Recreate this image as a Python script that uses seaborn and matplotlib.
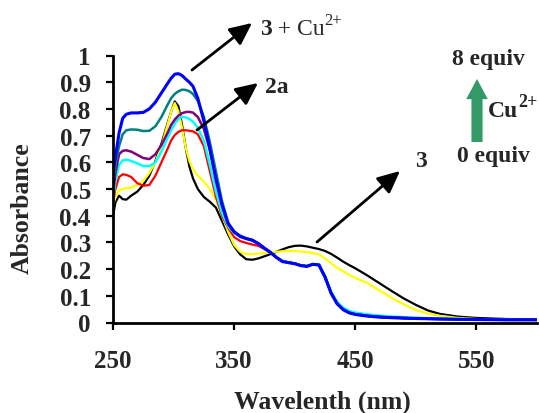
import matplotlib
matplotlib.use("Agg")
import matplotlib.pyplot as plt
import pandas as pd
import seaborn as sns

# Wavelength grid (nm) shared by every spectrum
wavelength = [250, 252, 255, 258, 261, 265, 270, 275, 280, 285, 290, 295, 298, 301, 304,
              307, 310, 313, 316, 320, 325, 330, 335, 340, 345, 350, 355, 360, 365, 370,
              375, 380, 385, 390, 395, 400, 405, 410, 415, 420, 425, 430, 435, 440, 445,
              450, 460, 470, 480, 490, 500, 510, 520, 535, 550, 575, 600]

# Absorbance of compound 3 during the Cu2+ titration (0 -> 8 equiv)
abs_black = [0.40, 0.45, 0.475, 0.462, 0.46, 0.475, 0.49, 0.515, 0.55, 0.605, 0.67, 0.745, 0.79, 0.828, 0.81,
             0.74, 0.655, 0.585, 0.54, 0.50, 0.47, 0.452, 0.43, 0.38, 0.33, 0.285, 0.255, 0.237, 0.235, 0.24,
             0.248, 0.256, 0.265, 0.274, 0.282, 0.287, 0.288, 0.285, 0.28, 0.275, 0.268, 0.257, 0.243, 0.228, 0.215,
             0.203, 0.176, 0.147, 0.118, 0.09, 0.066, 0.045, 0.032, 0.022, 0.017, 0.013, 0.011]
abs_yellow = [0.44, 0.47, 0.495, 0.50, 0.503, 0.505, 0.515, 0.53, 0.56, 0.60, 0.66, 0.74, 0.79, 0.822, 0.79,
              0.73, 0.655, 0.605, 0.575, 0.55, 0.528, 0.50, 0.46, 0.40, 0.34, 0.29, 0.265, 0.256, 0.256, 0.258,
              0.26, 0.263, 0.265, 0.267, 0.268, 0.268, 0.266, 0.263, 0.26, 0.255, 0.24, 0.222, 0.205, 0.192, 0.178,
              0.167, 0.148, 0.12, 0.092, 0.068, 0.047, 0.033, 0.025, 0.017, 0.013, 0.01, 0.008]
abs_red = [0.45, 0.50, 0.545, 0.555, 0.553, 0.545, 0.522, 0.512, 0.515, 0.55, 0.60, 0.65, 0.682, 0.702, 0.714,
           0.72, 0.72, 0.718, 0.716, 0.705, 0.66, 0.565, 0.47, 0.40, 0.355, 0.32, 0.305, 0.298, 0.292, 0.287,
           0.275, 0.262, 0.245, 0.23, 0.225, 0.221, 0.214, 0.211, 0.218, 0.216, 0.172, 0.113, 0.074, 0.052, 0.04,
           0.033, 0.027, 0.023, 0.02, 0.018, 0.016, 0.015, 0.014, 0.012, 0.011, 0.01, 0.01]
abs_cyan = [0.46, 0.53, 0.59, 0.607, 0.61, 0.605, 0.596, 0.586, 0.585, 0.60, 0.64, 0.69, 0.72, 0.745, 0.762,
            0.77, 0.768, 0.762, 0.752, 0.73, 0.68, 0.59, 0.49, 0.41, 0.36, 0.335, 0.322, 0.314, 0.308, 0.296,
            0.279, 0.263, 0.244, 0.229, 0.225, 0.221, 0.214, 0.211, 0.219, 0.217, 0.174, 0.116, 0.077, 0.055, 0.043,
            0.037, 0.03, 0.026, 0.022, 0.02, 0.018, 0.016, 0.015, 0.013, 0.012, 0.011, 0.01]
abs_purple = [0.48, 0.56, 0.63, 0.643, 0.645, 0.64, 0.628, 0.616, 0.612, 0.63, 0.665, 0.71, 0.74, 0.76, 0.775,
              0.784, 0.788, 0.789, 0.786, 0.77, 0.725, 0.645, 0.545, 0.44, 0.37, 0.338, 0.324, 0.315, 0.309, 0.296,
              0.279, 0.263, 0.244, 0.229, 0.225, 0.221, 0.214, 0.211, 0.218, 0.216, 0.171, 0.111, 0.071, 0.049, 0.037,
              0.031, 0.025, 0.021, 0.019, 0.017, 0.015, 0.014, 0.013, 0.012, 0.011, 0.01, 0.01]
abs_teal = [0.53, 0.59, 0.66, 0.705, 0.72, 0.723, 0.722, 0.717, 0.718, 0.735, 0.77, 0.815, 0.84, 0.856, 0.866,
            0.872, 0.871, 0.866, 0.856, 0.83, 0.77, 0.675, 0.565, 0.455, 0.375, 0.34, 0.325, 0.315, 0.309, 0.296,
            0.279, 0.263, 0.244, 0.229, 0.225, 0.221, 0.214, 0.211, 0.218, 0.216, 0.171, 0.111, 0.071, 0.049, 0.037,
            0.031, 0.025, 0.021, 0.019, 0.017, 0.015, 0.014, 0.013, 0.012, 0.011, 0.01, 0.01]
abs_blue = [0.56, 0.62, 0.71, 0.765, 0.78, 0.785, 0.785, 0.787, 0.80, 0.825, 0.86, 0.895, 0.915, 0.93, 0.932,
            0.925, 0.912, 0.90, 0.885, 0.84, 0.755, 0.65, 0.535, 0.44, 0.37, 0.34, 0.322, 0.314, 0.308, 0.295,
            0.278, 0.262, 0.243, 0.228, 0.224, 0.22, 0.213, 0.21, 0.218, 0.215, 0.17, 0.11, 0.07, 0.048, 0.036,
            0.03, 0.024, 0.02, 0.018, 0.016, 0.015, 0.014, 0.013, 0.012, 0.011, 0.01, 0.01]

series_names = ["black", "yellow", "red", "cyan", "purple", "teal", "blue"]
series_values = [abs_black, abs_yellow, abs_red, abs_cyan, abs_purple, abs_teal, abs_blue]
series_colors = ["#000000", "#FFFF00", "#FF0000", "#00FFFF", "#800080", "#008080", "#0000FF"]
series_widths = [1.6, 1.6, 1.6, 1.8, 1.8, 1.8, 2.2]

x_ticks = [250, 350, 450, 550]
y_ticks = [0, 0.1, 0.2, 0.3, 0.4, 0.5, 0.6, 0.7, 0.8, 0.9, 1]
y_tick_labels = ["0", "0.1", "0.2", "0.3", "0.4", "0.5", "0.6", "0.7", "0.8", "0.9", "1"]

frames = []
for name, vals in zip(series_names, series_values):
    frames.append(pd.DataFrame({"wavelength": wavelength, "absorbance": vals, "series": name}))
spectra = pd.concat(frames, ignore_index=True)

sns.set_style("ticks")
plt.rcParams["font.family"] = ["Liberation Serif", "DejaVu Serif"]
plt.rcParams["font.weight"] = "bold"

W, H = 539, 414
fig = plt.figure(figsize=(W / 100, H / 100), dpi=100)
ax = fig.add_axes([113 / W, 1 - 323.5 / H, 424 / W, 267 / H])

for name, color, lw in zip(series_names, series_colors, series_widths):
    sns.lineplot(data=spectra[spectra["series"] == name], x="wavelength", y="absorbance",
                 color=color, linewidth=lw, sort=False, estimator=None, ax=ax, legend=False)

ax.set_xlim(250, 600)
ax.set_ylim(0, 1)
ax.set_xticks(x_ticks)
ax.set_yticks(y_ticks)
ax.set_yticklabels(y_tick_labels)
for side in ("top", "right"):
    ax.spines[side].set_visible(False)
for side in ("left", "bottom"):
    ax.spines[side].set_linewidth(2.0)
    ax.spines[side].set_color("black")
ax.tick_params(axis="both", direction="out", length=5, width=1.6, color="black", labelsize=18)
ax.tick_params(axis="y", pad=11)
ax.tick_params(axis="x", pad=14)
for lab in ax.get_xticklabels() + ax.get_yticklabels():
    lab.set_fontweight("bold")

ax.set_xlabel("Wavelenth (nm)", fontsize=18.5, fontweight="bold")
ax.set_ylabel("Absorbance", fontsize=18.5, fontweight="bold")
ax.xaxis.set_label_coords((322 - 113) / 424, (323.5 - 391) / 267)
ax.yaxis.set_label_coords((34 - 113) / 424, (323.5 - 208) / 267)


def fp(x, y):
    return (x / W, 1 - y / H)


black_arrow = dict(arrowstyle="-|>,head_length=0.75,head_width=0.35", color="black",
                   lw=2.0, mutation_scale=18, shrinkA=0, shrinkB=0)
for start, end in [((192, 71), (252, 24)), ((197, 131), (258, 84)), ((317, 243), (400, 172))]:
    fig.add_artist(matplotlib.patches.FancyArrowPatch(fp(*start), fp(*end),
                                                      transform=fig.transFigure, **black_arrow))

fig.add_artist(matplotlib.patches.FancyArrowPatch(
    fp(477, 143), fp(477, 80), transform=fig.transFigure, color="#339966", lw=0,
    arrowstyle="simple,head_length=1.45,head_width=1.55,tail_width=0.8",
    mutation_scale=10, shrinkA=0, shrinkB=0))

renderer = fig.canvas.get_renderer()


def text_run(x, y, pieces):
    """Write consecutive text pieces; each piece is (text, size, weight, raise_px)."""
    for s, size, weight, rise in pieces:
        t = fig.text(*fp(x, y - rise), s, fontsize=size, fontweight=weight,
                     ha="left", va="baseline")
        x = t.get_window_extent(renderer).x1


text_run(260, 35, [("3", 17, "bold", 0), (" + Cu", 17, "normal", 0), ("2+", 12, "normal", 10)])
text_run(488, 117, [("Cu", 17, "bold", 0), ("2+", 13, "bold", 10)])
fig.text(*fp(265, 93), "2a", fontsize=17, fontweight="bold", ha="left", va="baseline")
fig.text(*fp(415, 167), "3", fontsize=17, fontweight="bold", ha="left", va="baseline")
fig.text(*fp(452, 65), "8 equiv", fontsize=17, fontweight="bold", ha="left", va="baseline")
fig.text(*fp(457, 162), "0 equiv", fontsize=17, fontweight="bold", ha="left", va="baseline")

fig.savefig("out.png", dpi=100)
